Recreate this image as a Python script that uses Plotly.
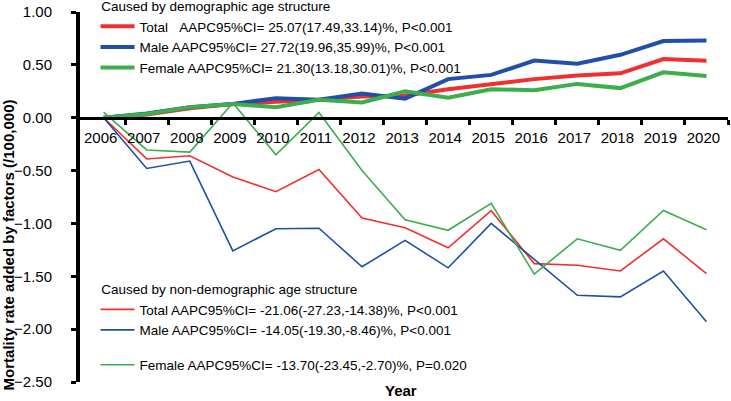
import plotly.graph_objects as go

years = list(range(2006, 2021))

# caused by demographic age structure (thick lines)
demo_total = [0.00, 0.03, 0.09, 0.13, 0.15, 0.17, 0.20, 0.21, 0.27, 0.32, 0.365, 0.40, 0.42, 0.555, 0.54]
demo_male = [0.00, 0.04, 0.10, 0.13, 0.185, 0.17, 0.23, 0.18, 0.365, 0.405, 0.54, 0.51, 0.595, 0.725, 0.73]
demo_female = [0.00, 0.035, 0.10, 0.13, 0.10, 0.17, 0.145, 0.25, 0.19, 0.27, 0.26, 0.32, 0.28, 0.43, 0.395]

# caused by non-demographic age structure (thin lines)
non_total = [0.00, -0.39, -0.36, -0.56, -0.70, -0.49, -0.95, -1.04, -1.23, -0.88, -1.38, -1.395, -1.45, -1.145, -1.475]
non_male = [0.00, -0.48, -0.41, -1.26, -1.05, -1.045, -1.41, -1.16, -1.42, -1.00, -1.34, -1.68, -1.695, -1.45, -1.93]
non_female = [0.05, -0.305, -0.325, 0.14, -0.35, 0.05, -0.50, -0.965, -1.065, -0.81, -1.48, -1.145, -1.255, -0.877, -1.06]

demo_names = [
    "Total\u00a0\u00a0\u00a0AAPC95%CI= 25.07(17.49,33.14)%, P<0.001",
    "Male AAPC95%CI= 27.72(19.96,35.99)%, P<0.001",
    "Female AAPC95%CI= 21.30(13.18,30.01)%, P<0.001",
]
non_names = [
    "Total AAPC95%CI= -21.06(-27.23,-14.38)%, P<0.001",
    "Male AAPC95%CI= -14.05(-19.30,-8.46)%, P<0.001",
    "Female AAPC95%CI= -13.70(-23.45,-2.70)%, P=0.020",
]

RED, BLUE, GREEN = "#F03030", "#1F4FA8", "#3DAD4E"
FONT = "Arial, Liberation Sans, sans-serif"

fig = go.Figure()
for ys, name, color in zip([demo_total, demo_male, demo_female], demo_names, [RED, BLUE, GREEN]):
    fig.add_trace(go.Scatter(x=years, y=ys, mode="lines", name=name,
                             line=dict(color=color, width=4), legend="legend"))
for ys, name, color, leg in zip([non_total, non_male, non_female], non_names,
                                [RED, BLUE, GREEN], ["legend2", "legend2", "legend3"]):
    fig.add_trace(go.Scatter(x=years, y=ys, mode="lines", name=name,
                             line=dict(color=color, width=1.6), legend=leg))

legend_common = dict(xanchor="left", yanchor="top", bgcolor="rgba(0,0,0,0)",
                     font=dict(family=FONT, size=13.5, color="black"),
                     tracegroupgap=0, itemwidth=34)

fig.update_layout(
    width=731, height=401,
    paper_bgcolor="white", plot_bgcolor="white",
    margin=dict(l=80, r=3, t=12, b=19, autoexpand=False),
    font=dict(family=FONT, size=15, color="black"),
    showlegend=True,
    legend=dict(x=0.024, y=1.05,
                title=dict(text="\u00a0Caused by demographic age structure",
                           side="top", font=dict(size=13.5)),
                **legend_common),
    legend2=dict(x=0.024, y=0.285,
                 title=dict(text="\u00a0Caused by non-demographic age structure",
                            side="top", font=dict(size=13.5)),
                 **legend_common),
    legend3=dict(x=0.024, y=0.088, **legend_common),
    xaxis=dict(
        range=[2005.45, 2020.5],
        anchor="free", position=2.5 / 3.5,
        showline=True, linecolor="black", linewidth=3,
        showgrid=False, zeroline=False,
        tickmode="array", tickvals=years, ticktext=[str(y) for y in years],
        ticks="", ticklabelstandoff=5, ticklabelshift=-3,
        minor=dict(tickvals=[y + 0.5 for y in years], ticks="outside",
                   ticklen=5, tickwidth=3, tickcolor="black", showgrid=False),
    ),
    yaxis=dict(
        range=[-2.5, 1.0], domain=[0, 1],
        showline=True, linecolor="black", linewidth=4,
        showgrid=False, zeroline=False,
        tickmode="array", tickvals=[-2.5, -2.0, -1.5, -1.0, -0.5, 0.0, 0.5, 1.0],
        tickformat=".2f", ticks="outside", ticklen=5, tickwidth=3, tickcolor="black",
        ticklabelstandoff=16,
    ),
)

fig.add_annotation(text="<b>Year</b>", xref="paper", yref="paper", x=0.495, y=-0.022,
                   showarrow=False, font=dict(family=FONT, size=15, color="black"),
                   xanchor="center", yanchor="middle")
fig.add_annotation(text="<b>Mortality rate added by factors (/100,000)</b>", xref="paper",
                   yref="paper", x=-0.11, y=0.371, textangle=-90, showarrow=False,
                   font=dict(family=FONT, size=15, color="black"),
                   xanchor="center", yanchor="middle")

# drop the default 8px page margin so the figure fills the window
fig.write_html("out.html", config={"displayModeBar": False},
               post_script="document.body.style.margin = '0';")
